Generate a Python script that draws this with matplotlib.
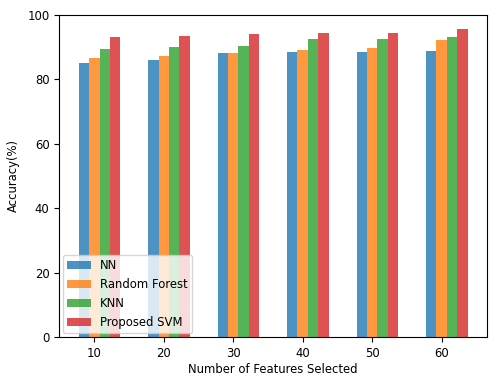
import matplotlib
matplotlib.use("Agg")
import matplotlib.pyplot as plt
import numpy as np

# accuracy (%) per number of selected features
features = [10, 20, 30, 40, 50, 60]
nn = [85.2, 85.9, 88.3, 88.4, 88.4, 88.9]
random_forest = [86.8, 87.4, 88.3, 89.0, 89.8, 92.4]
knn = [89.3, 90.2, 90.3, 92.5, 92.7, 93.2]
proposed_svm = [93.1, 93.4, 94.1, 94.3, 94.3, 95.6]

labels = ["NN", "Random Forest", "KNN", "Proposed SVM"]
series = [nn, random_forest, knn, proposed_svm]

plt.rcParams["font.size"] = 8.4

fig = plt.figure(figsize=(4.9, 3.76), dpi=100)
ax = fig.add_axes([0.121, 0.104, 0.873, 0.856])

x = np.array(features)
w = 1.5
for i, (vals, lab) in enumerate(zip(series, labels)):
    ax.bar(x + (i - 1) * w, vals, width=w, alpha=0.8, label=lab)

ax.set_xticks(features)
ax.set_ylim(0, 100)
ax.set_xlabel("Number of Features Selected", labelpad=2.5)
ax.set_ylabel("Accuracy(%)", labelpad=5)
ax.legend(loc="lower left", borderaxespad=0.3)

fig.savefig("out.png", dpi=100)
